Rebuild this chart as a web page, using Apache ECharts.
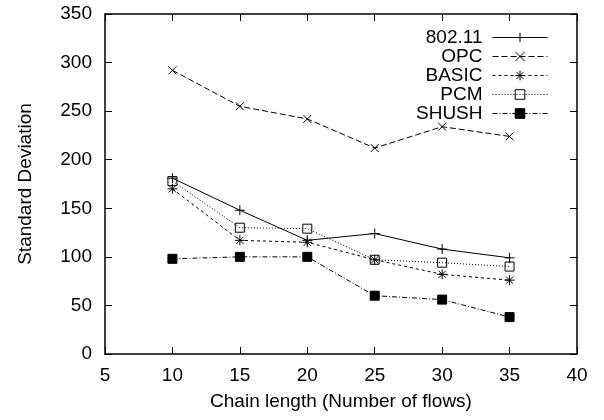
<!DOCTYPE html>
<html><head><meta charset="utf-8">
<script src="https://cdn.jsdelivr.net/npm/echarts@6/dist/echarts.min.js"></script>
<style>html,body{margin:0;padding:0;background:#fff}#c{width:604px;height:420px}</style>
</head><body><div id="c"></div>
<script>
const chainLength = [10, 15, 20, 25, 30, 35];
const s80211 = [181, 148, 117, 124, 108, 99];
const sOPC = [292, 255, 242, 212, 234, 224];
const sBASIC = [170, 117, 115, 97, 82, 76];
const sPCM = [178, 130, 129, 97, 94, 90];
const sSHUSH = [98, 100, 100, 60, 56, 38];
const seriesNames = ['802.11', 'OPC', 'BASIC', 'PCM', 'SHUSH'];

const FONT = 'Liberation Sans';
const FS = 19;
const plus = 'path://M0,-1L0,1M-1,0L1,0';
const cross = 'path://M-1,-1L1,1M-1,1L1,-1';
const star = 'path://M0,-1L0,1M-1,0L1,0M-0.72,-0.72L0.72,0.72M-0.72,0.72L0.72,-0.72';

function pairs(ys){ return chainLength.map((x,i)=>[x, ys[i]]); }
function mk(name, ys, symbol, size, dash, fill){
  return {
    name, type:'line', data: pairs(ys), symbol, symbolSize: size,
    xAxisIndex:0, yAxisIndex:0,
    lineStyle:{color:'#000', width:1, type: dash},
    itemStyle:{color: fill, borderColor:'#000', borderWidth:1},
    emphasis:{disabled:true}, animation:false, z: 3
  };
}
const axisCommon = {
  type:'value', min:5, max:40, interval:5,
  axisLine:{show:true, onZero:false, lineStyle:{color:'#000', width:1.5}},
  axisTick:{show:true, inside:true, length:7, lineStyle:{color:'#000', width:1}},
  splitLine:{show:false}
};
const option = {
  backgroundColor:'#fff',
  animation:false,
  grid:{left:105, right:27, top:14, bottom:66, containLabel:false},
  textStyle:{fontFamily:FONT},
  xAxis:[
    Object.assign({}, axisCommon, {
      position:'bottom',
      axisLabel:{color:'#000', fontSize:FS, fontFamily:FONT, margin:12},
      name:'Chain length (Number of flows)', nameLocation:'middle', nameGap:38,
      nameTextStyle:{color:'#000', fontSize:FS, fontFamily:FONT}
    }),
    Object.assign({}, axisCommon, {position:'top', axisLabel:{show:false}})
  ],
  yAxis:[
    Object.assign({}, axisCommon, {
      min:0, max:350, interval:50, position:'left',
      axisLabel:{color:'#000', fontSize:FS, fontFamily:FONT, margin:13},
      name:'Standard Deviation', nameLocation:'middle', nameGap:70,
      nameTextStyle:{color:'#000', fontSize:FS, fontFamily:FONT}
    }),
    Object.assign({}, axisCommon, {min:0, max:350, interval:50, position:'right', axisLabel:{show:false}})
  ],
  legend:{
    orient:'vertical', right:51, top:23, align:'right',
    itemWidth:55, itemHeight:12, itemGap:0,
    data: seriesNames,
    lineStyle:{width:1},
    itemStyle:{borderWidth:1},
    textStyle:{color:'#000', fontSize:FS, fontFamily:FONT, width:100, align:'right', lineHeight:19, padding:[0,5,0,0]},
    selectedMode:false
  },
  series:[
    mk(seriesNames[0], s80211, plus, 10, 'solid', 'none'),
    mk(seriesNames[1], sOPC, cross, 8, [6,3], 'none'),
    mk(seriesNames[2], sBASIC, star, 10, [3,3], 'none'),
    mk(seriesNames[3], sPCM, 'rect', 9, [1,2], 'none'),
    mk(seriesNames[4], sSHUSH, 'rect', 9, [5,2,1,2], '#000')
  ]
};
const chart = echarts.init(document.getElementById('c'), null, {renderer:'canvas'});
chart.setOption(option);
</script></body></html>
